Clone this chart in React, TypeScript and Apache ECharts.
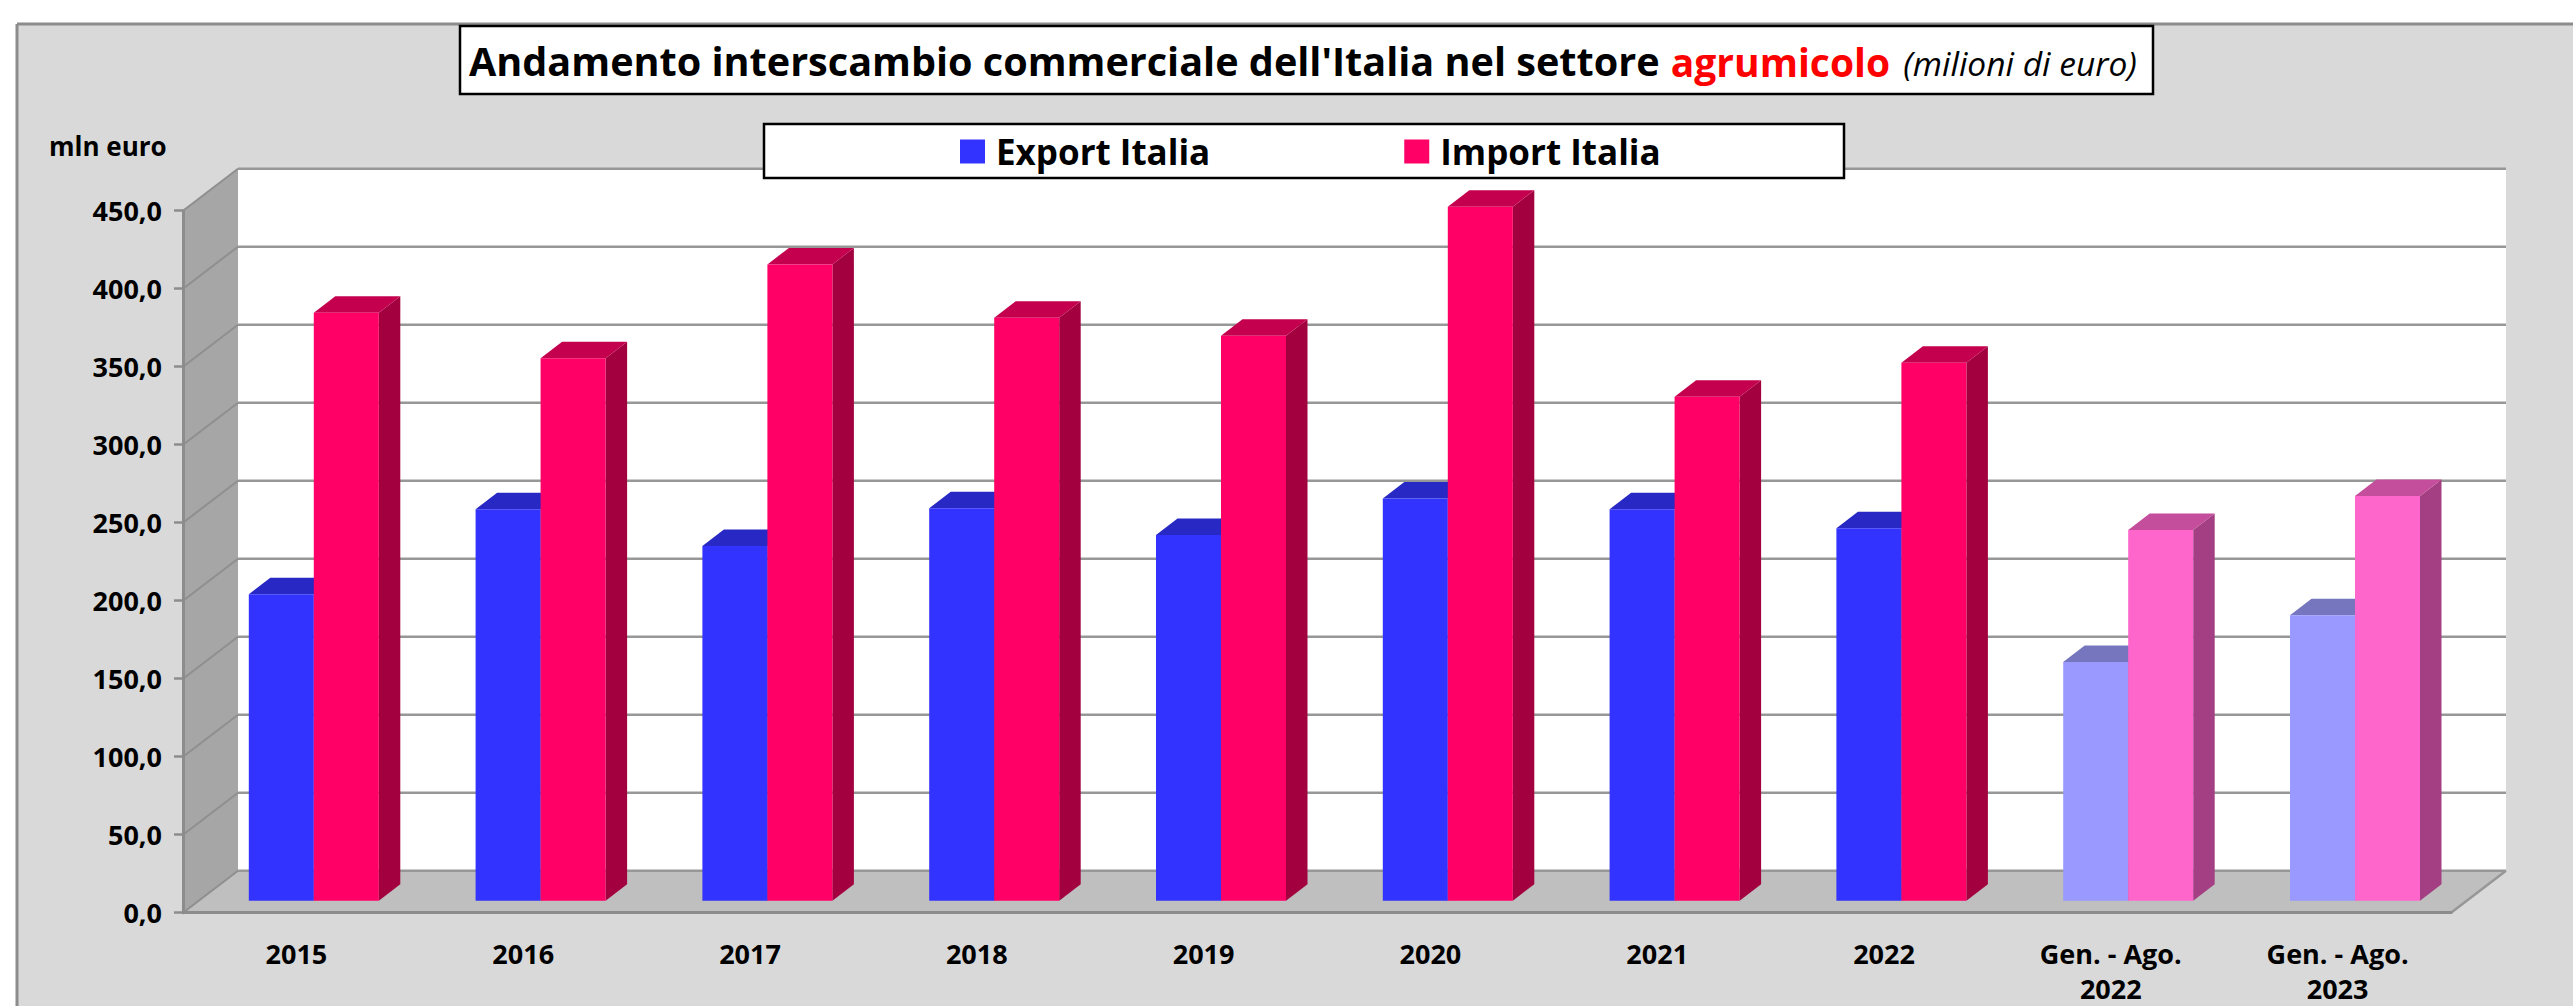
import React, { useEffect, useRef } from "react";
import * as echarts from "echarts";

const categories = ["2015", "2016", "2017", "2018", "2019", "2020", "2021", "2022", "Gen. - Ago.\n2022", "Gen. - Ago.\n2023"];
const exportValues = [196.4, 251, 227.4, 251.5, 234.4, 257.9, 250.9, 238.7, 153, 183];
const importValues = [376.9, 347.7, 407.9, 373.7, 362.2, 444.9, 323.1, 344.9, 237.6, 259.5];
const yTicks = [0, 50, 100, 150, 200, 250, 300, 350, 400, 450];
const partialPeriods = [8, 9];

const FONT = "'Open Sans'";
const W = 2573, H = 1006;
const G = { left: 183, top: 210.7, width: 2268, height: 702 };
const DEPTH = { x: 55, y: 42 };
const BAR = { w: 65, dx: 17.4, dy: 12, depthX: 21.5, depthY: 16.5 };

const palette = {
  exp: { face: "#3333ff", top: "#2828c4", side: "#20209c" },
  expLight: { face: "#9999ff", top: "#7676bf", side: "#5f5f9c" },
  imp: { face: "#ff0066", top: "#c4004e", side: "#a3003f" },
  impLight: { face: "#ff66cc", top: "#c44d9c", side: "#a33f82" },
};
const GRID_GRAY = "#979797";

function barRender(seriesOffset: number, normal: any, light: any) {
  return (params: any, api: any) => {
    const idx = api.value(0);
    const top = api.coord([idx, api.value(1)]);
    const base = api.coord([idx, 0]);
    const x = top[0] + BAR.dx + seriesOffset * BAR.w;
    const y = top[1] - BAR.dy;
    const y0 = base[1] - BAR.dy;
    const c = partialPeriods.includes(idx) ? light : normal;
    const { w, depthX: dx, depthY: dy } = BAR;
    return {
      type: "group",
      silent: true,
      children: [
        { type: "polygon", shape: { points: [[x + w, y], [x + w + dx, y - dy], [x + w + dx, y0 - dy], [x + w, y0]] }, style: { fill: c.side } },
        { type: "polygon", shape: { points: [[x, y], [x + dx, y - dy], [x + w + dx, y - dy], [x + w, y]] }, style: { fill: c.top } },
        { type: "rect", shape: { x, y, width: w, height: y0 - y }, style: { fill: c.face } },
      ],
    };
  };
}

function wallRender(params: any, api: any) {
  const band = api.size([1, 0])[0];
  const bl = api.coord([0, 0]);
  const tl = api.coord([0, 450]);
  const br = api.coord([categories.length - 1, 0]);
  const x0 = bl[0] - band / 2, x1 = br[0] + band / 2;
  const y0 = bl[1], y1 = tl[1];
  const bx0 = x0 + DEPTH.x, bx1 = x1 + DEPTH.x;
  const by0 = y0 - DEPTH.y, by1 = y1 - DEPTH.y;
  return {
    type: "group",
    silent: true,
    children: [
      { type: "rect", shape: { x: bx0, y: by1, width: bx1 - bx0, height: by0 - by1 }, style: { fill: "#ffffff" } },
      { type: "polygon", shape: { points: [[x0, y0], [bx0, by0], [bx0, by1], [x0, y1]] }, style: { fill: "#a6a6a6" } },
      { type: "polygon", shape: { points: [[x0, y0], [bx0, by0], [bx1, by0], [x1, y0]] }, style: { fill: "#bfbfbf" } },
      { type: "line", shape: { x1, y1: y0, x2: bx1, y2: by0 }, style: { stroke: GRID_GRAY, lineWidth: 2.5 } },
    ],
  };
}

function gridRender(params: any, api: any) {
  const band = api.size([1, 0])[0];
  const p = api.coord([0, api.value(1)]);
  const end = api.coord([categories.length - 1, api.value(1)]);
  const x0 = p[0] - band / 2, x1 = end[0] + band / 2;
  const y = p[1];
  return {
    type: "group",
    silent: true,
    children: [
      { type: "line", shape: { x1: x0, y1: y, x2: x0 + DEPTH.x, y2: y - DEPTH.y }, style: { stroke: "#8f8f8f", lineWidth: 2 } },
      { type: "line", shape: { x1: x0 + DEPTH.x, y1: y - DEPTH.y, x2: x1 + DEPTH.x, y2: y - DEPTH.y }, style: { stroke: GRID_GRAY, lineWidth: 2.5 } },
    ],
  };
}

export default function App() {
  const ref = useRef<HTMLDivElement>(null);
  useEffect(() => {
    const chart = echarts.init(ref.current!, undefined, { renderer: "svg" });
    chart.setOption({
      animation: false,
      backgroundColor: "#ffffff",
      textStyle: { fontFamily: FONT },
      title: {
        left: 469,
        top: 33,
        padding: 0,
        text: "{a|Andamento interscambio commerciale dell'Italia nel settore} {b|agrumicolo} {c|(milioni di euro)}",
        textStyle: {
          fontSize: 20,
          fontWeight: "normal",
          rich: {
            a: { fontFamily: FONT, fontWeight: "bold", fontSize: 39.6, color: "#000", lineHeight: 56 },
            b: { fontFamily: FONT, fontWeight: "bold", fontSize: 39, color: "#ff0000", lineHeight: 56, padding: [0, 0, 0, 6] },
            c: { fontFamily: FONT, fontWeight: "normal", fontStyle: "italic", fontSize: 33.5, color: "#000", lineHeight: 56, padding: [4, 0, 0, 8] },
          },
        },
      },
      legend: {
        left: 960,
        top: 134,
        padding: 0,
        itemWidth: 25,
        itemHeight: 24,
        itemGap: 194,
        icon: "rect",
        selectedMode: false,
        data: ["Export Italia", "Import Italia"],
        textStyle: { fontFamily: FONT, fontWeight: "bold", fontSize: 35, color: "#000", padding: [0, 0, 0, 6] },
      },
      graphic: [
        { type: "rect", z: -10, silent: true, shape: { x: 17, y: 24, width: W - 17, height: H - 24 }, style: { fill: "#d9d9d9" } },
        { type: "line", z: -9, silent: true, shape: { x1: 17, y1: 24, x2: W, y2: 24 }, style: { stroke: "#8c8c8c", lineWidth: 3 } },
        { type: "line", z: -9, silent: true, shape: { x1: 17, y1: 24, x2: 17, y2: H }, style: { stroke: "#8c8c8c", lineWidth: 3 } },
        { type: "rect", z: 5, silent: true, shape: { x: 460, y: 26, width: 1693, height: 68 }, style: { fill: "#ffffff", stroke: "#000000", lineWidth: 2.5 } },
        { type: "rect", z: 3, silent: true, shape: { x: 764, y: 124, width: 1080, height: 54 }, style: { fill: "#ffffff", stroke: "#000000", lineWidth: 2.5 } },
        { type: "text", z: 5, silent: true, x: 49, y: 146, style: { text: "mln euro", fontFamily: FONT, fontWeight: "bold", fontSize: 26, fill: "#000", verticalAlign: "middle" } },
      ],
      grid: { left: G.left, top: G.top, width: G.width, height: G.height, containLabel: false, outerBoundsMode: "none" },
      xAxis: {
        type: "category",
        data: categories,
        z: 3,
        axisTick: { show: false },
        axisLine: { lineStyle: { color: "#8c8c8c", width: 3 } },
        axisLabel: { interval: 0, margin: 24, fontFamily: FONT, fontWeight: "bold", fontSize: 27, color: "#000", lineHeight: 34.5, verticalAlign: "top" },
        splitLine: { show: false },
      },
      yAxis: {
        type: "value",
        min: 0,
        max: 450,
        interval: 50,
        z: 3,
        axisLine: { show: true, lineStyle: { color: "#8c8c8c", width: 3 } },
        axisTick: { show: true, length: 9, lineStyle: { color: "#8c8c8c", width: 2.5 } },
        axisLabel: {
          margin: 21,
          fontFamily: FONT,
          fontWeight: "bold",
          fontSize: 27,
          color: "#000",
          formatter: (v: number) => v.toFixed(1).replace(".", ","),
        },
        splitLine: { show: false },
      },
      series: [
        { type: "custom", name: "walls", z: 1, renderItem: wallRender, encode: { x: 0, y: 1 }, data: [[0, 0]], silent: true },
        { type: "custom", name: "gridlines", z: 1, renderItem: gridRender, encode: { x: 0, y: 1 }, data: yTicks.map((t) => [0, t]), silent: true },
        { type: "custom", name: "Export Italia", z: 2, itemStyle: { color: palette.exp.face }, renderItem: barRender(-1, palette.exp, palette.expLight), encode: { x: 0, y: 1 }, data: exportValues.map((v, i) => [i, v]) },
        { type: "custom", name: "Import Italia", z: 2, itemStyle: { color: palette.imp.face }, renderItem: barRender(0, palette.imp, palette.impLight), encode: { x: 0, y: 1 }, data: importValues.map((v, i) => [i, v]) },
      ],
    });
    return () => chart.dispose();
  }, []);
  return <div ref={ref} style={{ position: "absolute", left: 0, top: 0, width: W, height: H }} />;
}
